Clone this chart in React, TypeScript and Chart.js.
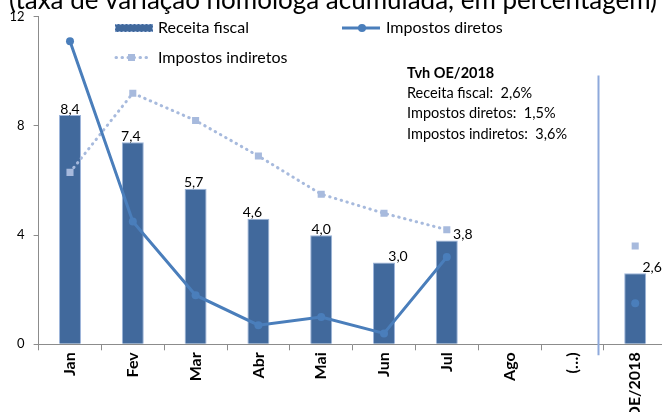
import { useEffect, useRef } from 'react';
import { Chart, registerables } from 'chart.js';

Chart.register(...registerables);

const categories = ['Jan', 'Fev', 'Mar', 'Abr', 'Mai', 'Jun', 'Jul', 'Ago', '(…)', 'OE/2018'];
const receitaFiscal = [8.4, 7.4, 5.7, 4.6, 4.0, 3.0, 3.8, null, null, 2.6];
const impostosDiretos = [11.1, 4.5, 1.8, 0.7, 1.0, 0.4, 3.2, null, null, 1.5];
const impostosIndiretos = [6.3, 9.2, 8.2, 6.9, 5.5, 4.8, 4.2, null, null, 3.6];
const yTicks = [0, 4, 8, 12];
const seriesNames = ['Receita fiscal', 'Impostos diretos', 'Impostos indiretos'];
const titleText = '(taxa de variação homóloga acumulada, em percentagem)';
const noteTitle = 'Tvh OE/2018';

const FONT = 'Lato, "Open Sans", sans-serif';
const BAR_FILL = '#41699C';
const BAR_BORDER = '#9DB5DA';
const DIR_COLOR = '#4A7EBB';
const IND_COLOR = '#A7BADD';
const AXIS_COLOR = '#8C8C8C';
const SEP_COLOR = '#8EA9DB';
// horizontal nudges of bar value labels (style)
const labelDx = [0, -2, -2, -6, 0, 14, 16, 0, 0, 17];

const fmt = (v: number) => v.toFixed(1).replace('.', ',');

const overlay = {
  id: 'overlay',
  afterDatasetsDraw(chart: any) {
    const ctx = chart.ctx;
    const xs = chart.scales.x;
    const ys = chart.scales.y;
    const area = chart.chartArea;
    ctx.save();
    // value labels on bars
    ctx.font = `14px ${FONT}`;
    ctx.fillStyle = '#000';
    ctx.textAlign = 'center';
    ctx.textBaseline = 'middle';
    const meta = chart.getDatasetMeta(0);
    meta.data.forEach((el: any, i: number) => {
      const v = receitaFiscal[i];
      if (v == null) return;
      ctx.fillText(fmt(v), el.x + labelDx[i], el.y - 6);
    });
    // separator line before OE/2018
    const sx = Math.round(xs.getPixelForValue(8.4)) + 0.5;
    ctx.strokeStyle = SEP_COLOR;
    ctx.lineWidth = 2;
    ctx.beginPath();
    ctx.moveTo(sx, ys.getPixelForValue(9.85));
    ctx.lineTo(sx, area.bottom + 11);
    ctx.stroke();
    ctx.restore();
  },
  afterDraw(chart: any) {
    const ctx = chart.ctx;
    ctx.save();
    // title (cropped at top like the reference)
    ctx.font = `26px ${FONT}`;
    ctx.fillStyle = '#000';
    ctx.textAlign = 'center';
    ctx.textBaseline = 'alphabetic';
    ctx.fillText(titleText, 333, 9);

    // legend
    ctx.font = `16px ${FONT}`;
    ctx.textAlign = 'left';
    ctx.textBaseline = 'middle';
    const ds = chart.data.datasets;
    const r1 = 28;
    const r2 = 57.5;
    // Receita fiscal
    ctx.fillStyle = ds[0].backgroundColor;
    ctx.fillRect(115, r1 - 4, 38, 8);
    ctx.strokeStyle = ds[0].borderColor;
    ctx.lineWidth = 1;
    ctx.setLineDash([2, 2]);
    ctx.strokeRect(115.5, r1 - 3.5, 37, 7);
    ctx.setLineDash([]);
    ctx.fillStyle = '#000';
    ctx.fillText(ds[0].label, 158, r1);
    // Impostos diretos
    ctx.strokeStyle = ds[1].borderColor;
    ctx.lineWidth = 3;
    ctx.beginPath();
    ctx.moveTo(342, r1);
    ctx.lineTo(380, r1);
    ctx.stroke();
    ctx.fillStyle = ds[1].borderColor;
    ctx.beginPath();
    ctx.arc(362, r1, 4, 0, Math.PI * 2);
    ctx.fill();
    ctx.fillStyle = '#000';
    ctx.fillText(ds[1].label, 386, r1);
    // Impostos indiretos
    ctx.strokeStyle = ds[2].borderColor;
    ctx.lineWidth = 3;
    ctx.lineCap = 'round';
    ctx.setLineDash([0.5, 5.5]);
    ctx.beginPath();
    ctx.moveTo(116, r2);
    ctx.lineTo(151, r2);
    ctx.stroke();
    ctx.setLineDash([]);
    ctx.lineCap = 'butt';
    ctx.fillStyle = ds[2].borderColor;
    ctx.fillRect(128, r2 - 3.5, 7, 7);
    ctx.fillStyle = '#000';
    ctx.fillText(ds[2].label, 158, r2);

    // note box
    const last = categories.length - 1;
    const lines = [
      `${seriesNames[0]}:  ${fmt(receitaFiscal[last] as number)}%`,
      `${seriesNames[1]}:  ${fmt(impostosDiretos[last] as number)}%`,
      `${seriesNames[2]}:  ${fmt(impostosIndiretos[last] as number)}%`,
    ];
    ctx.font = `bold 14.5px ${FONT}`;
    ctx.fillText(noteTitle, 407, 73);
    ctx.font = `14.5px ${FONT}`;
    lines.forEach((t, i) => ctx.fillText(t, 407, 93 + i * 20.5));
    ctx.restore();
  },
};

export default function App() {
  const ref = useRef<HTMLCanvasElement | null>(null);
  useEffect(() => {
    if (!ref.current) return;
    const chart = new Chart(ref.current, {
      type: 'bar',
      data: {
        labels: categories,
        datasets: [
          {
            type: 'bar',
            label: seriesNames[0],
            data: receitaFiscal,
            backgroundColor: BAR_FILL,
            borderColor: BAR_BORDER,
            borderWidth: 1,
            barPercentage: 0.35,
            categoryPercentage: 1,
            order: 3,
          },
          {
            type: 'line',
            label: seriesNames[1],
            data: impostosDiretos,
            borderColor: DIR_COLOR,
            backgroundColor: DIR_COLOR,
            borderWidth: 3,
            pointRadius: 4,
            pointBackgroundColor: DIR_COLOR,
            pointBorderWidth: 0,
            tension: 0,
            spanGaps: false,
            order: 1,
          },
          {
            type: 'line',
            label: seriesNames[2],
            data: impostosIndiretos,
            borderColor: IND_COLOR,
            backgroundColor: IND_COLOR,
            borderWidth: 3,
            borderDash: [0.5, 5.5],
            borderCapStyle: 'round',
            pointStyle: 'rect',
            pointRadius: 5,
            pointBackgroundColor: IND_COLOR,
            pointBorderWidth: 0,
            tension: 0,
            spanGaps: false,
            order: 2,
          },
        ] as any,
      },
      options: {
        animation: false,
        responsive: false,
        maintainAspectRatio: false,
        layout: { padding: { top: 16.3, right: 13.4, left: 0, bottom: 0 } },
        plugins: {
          legend: { display: false },
          tooltip: { enabled: false },
          title: { display: false },
        },
        scales: {
          x: {
            grid: {
              display: true,
              drawOnChartArea: false,
              drawTicks: true,
              tickLength: 6,
              color: AXIS_COLOR,
              offset: true,
            },
            border: { display: true, color: AXIS_COLOR, width: 1 },
            ticks: {
              autoSkip: false,
              maxRotation: 90,
              minRotation: 90,
              padding: 2,
              color: '#000',
              font: { family: FONT, size: 16, weight: 'bold' },
            },
            afterFit(scale: any) {
              scale.height = 412 - 344.3;
            },
          },
          y: {
            min: 0,
            max: 12,
            grid: {
              display: true,
              drawOnChartArea: false,
              drawTicks: true,
              tickLength: 5,
              color: AXIS_COLOR,
            },
            border: { display: true, color: AXIS_COLOR, width: 1 },
            ticks: {
              padding: 9,
              color: '#000',
              font: { family: FONT, size: 13 },
            },
            afterBuildTicks(scale: any) {
              scale.ticks = yTicks.map((v) => ({ value: v }));
            },
            afterFit(scale: any) {
              scale.width = 38.6;
            },
          },
        },
      } as any,
      plugins: [overlay],
    });
    return () => chart.destroy();
  }, []);

  return (
    <div
      style={{
        position: 'fixed',
        left: 0,
        top: 0,
        width: 662,
        height: 412,
        overflow: 'hidden',
        background: '#fff',
      }}
    >
      <canvas ref={ref} width={680} height={412} style={{ display: 'block' }} />
    </div>
  );
}
